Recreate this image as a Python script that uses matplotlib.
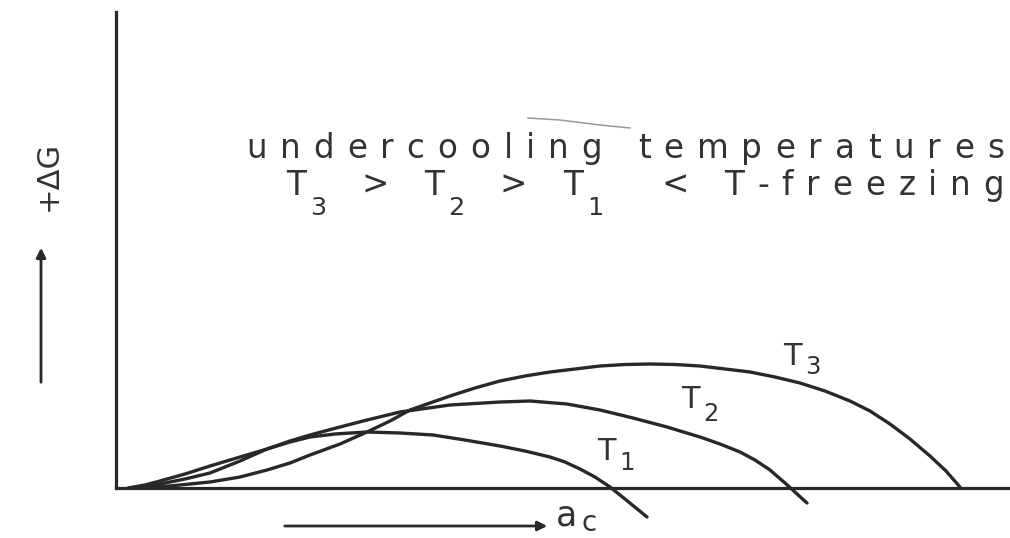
import matplotlib
matplotlib.use("Agg")
import matplotlib.pyplot as plt

# free-energy curves dG(a) of a nucleus for three undercooling temperatures
# a in arbitrary radius units, dG in arbitrary energy units
t1_a = [0.12, 0.29, 0.44, 0.69, 0.94, 1.24, 1.51, 1.74, 1.94, 2.19, 2.51, 2.84, 3.17,
        3.49, 3.84, 4.09, 4.34, 4.49, 4.64, 4.79, 4.94, 5.09, 5.31]
t1_g = [0.00, 0.03, 0.07, 0.14, 0.22, 0.31, 0.39, 0.46, 0.51, 0.54, 0.56, 0.55, 0.53,
        0.48, 0.42, 0.37, 0.31, 0.26, 0.19, 0.11, 0.01, -0.11, -0.29]

t2_a = [0.19, 0.44, 0.69, 0.94, 1.24, 1.51, 1.74, 1.94, 2.24, 2.51, 2.84, 3.34, 3.84,
        4.14, 4.51, 4.84, 5.17, 5.51, 5.84, 6.04, 6.24, 6.39, 6.54, 6.69, 6.80, 6.91]
t2_g = [0.00, 0.04, 0.09, 0.15, 0.27, 0.39, 0.47, 0.53, 0.61, 0.68, 0.76, 0.83, 0.86,
        0.87, 0.84, 0.78, 0.70, 0.61, 0.51, 0.44, 0.36, 0.28, 0.18, 0.05, -0.05, -0.15]

t3_a = [0.24, 0.54, 0.94, 1.24, 1.51, 1.74, 1.94, 2.24, 2.51, 2.74, 2.94, 3.14, 3.34,
        3.59, 3.84, 4.09, 4.34, 4.59, 4.84, 5.09, 5.34, 5.59, 5.84, 6.09, 6.34, 6.59,
        6.84, 7.09, 7.34, 7.54, 7.74, 7.94, 8.14, 8.30, 8.44]
t3_g = [0.00, 0.02, 0.06, 0.11, 0.18, 0.25, 0.33, 0.44, 0.56, 0.67, 0.78, 0.85, 0.92,
        1.00, 1.07, 1.12, 1.16, 1.19, 1.22, 1.235, 1.24, 1.235, 1.22, 1.19, 1.16, 1.11,
        1.05, 0.97, 0.87, 0.77, 0.64, 0.49, 0.32, 0.17, 0.01]

curve_names = ["1", "2", "3"]

ink = "#282828"
txt = "#333333"
W, H = 1010, 538

fig = plt.figure(figsize=(W / 100, H / 100), dpi=100)
fig.patch.set_facecolor("white")

ax = fig.add_axes([116 / W, 50 / H, (W - 116) / W, 476 / H])
for a, g in [(t1_a, t1_g), (t2_a, t2_g), (t3_a, t3_g)]:
    ax.plot(a, g, color=ink, lw=2.4, clip_on=False,
            solid_capstyle="round", solid_joinstyle="round")
ax.set_xlim(0, 8.94)
ax.set_ylim(0, 4.76)
for side in ["top", "right"]:
    ax.spines[side].set_visible(False)
for side in ["left", "bottom"]:
    ax.spines[side].set_linewidth(2.3)
    ax.spines[side].set_color(ink)
ax.set_xticks([])
ax.set_yticks([])

# overlay in pixel units for the lettering and arrows
lay = fig.add_axes([0, 0, 1, 1])
lay.set_xlim(0, W)
lay.set_ylim(H, 0)
lay.axis("off")

renderer = fig.canvas.get_renderer()


def ink_width(ch, size):
    t = lay.text(0, 0, ch, fontsize=size)
    w = t.get_window_extent(renderer).width
    t.remove()
    return w


def tracked(x0, x1, y, s, size, sub_scale=0.78, sub_drop=20, sub_gap=4):
    # letter-spaced line, "_x" puts x as a subscript right after the previous letter
    toks = []
    i = 0
    while i < len(s):
        if s[i] == "_":
            toks.append((s[i + 1], size * sub_scale, sub_drop, True))
            i += 2
        else:
            toks.append((s[i], size, 0, False))
            i += 1
    widths = [size * 0.3 * 100 / 72 if ch == " " else ink_width(ch, sz)
              for ch, sz, _, _ in toks]
    n_tight = sum(1 for t in toks[1:] if t[3])
    n_loose = len(toks) - 1 - n_tight
    gap = (x1 - x0 - sum(widths) - n_tight * sub_gap) / n_loose
    x = x0
    for k, ((ch, sz, dy, tight), w) in enumerate(zip(toks, widths)):
        if k > 0:
            x += sub_gap if tight else gap
        if ch != " ":
            lay.text(x, y + dy, ch, fontsize=sz, color=txt, va="baseline", ha="left")
        x += w


def sub_label(x, y, main, sub, size, drop, gap=4):
    lay.text(x, y, main, fontsize=size, color=txt, va="baseline", ha="left")
    w = ink_width(main, size)
    lay.text(x + w + gap, y + drop, sub, fontsize=size * 0.8, color=txt,
             va="baseline", ha="left")


tracked(246, 1004, 158, "undercooling temperatures", 23.5)
tracked(286, 1004, 195, "T_3 > T_2 > T_1  < T-freezing", 23.5)

# curve labels
label_pos = {"1": (597, 460, 10), "2": (681, 408, 13), "3": (783, 365, 9)}
for n in curve_names:
    x, y, drop = label_pos[n]
    sub_label(x, y, "T", n, 22, drop)

# axis captions with arrows
lay.text(48, 176, "+ΔG", fontsize=22, color=txt, rotation=90,
         ha="center", va="center")
lay.annotate("", xy=(41, 245), xytext=(41, 385),
             arrowprops=dict(arrowstyle="-|>", lw=2, color=ink, mutation_scale=14))
lay.annotate("", xy=(550, 526), xytext=(282, 526),
             arrowprops=dict(arrowstyle="-|>", lw=2, color=ink, mutation_scale=14))
sub_label(556, 525, "a", "c", 25, 6, gap=4)

# faint pen stroke above the heading
lay.plot([528, 560, 600, 630], [118, 120, 125, 128], color="#9a9a9a", lw=1.1)

fig.savefig("out.png", dpi=100, facecolor="white")
